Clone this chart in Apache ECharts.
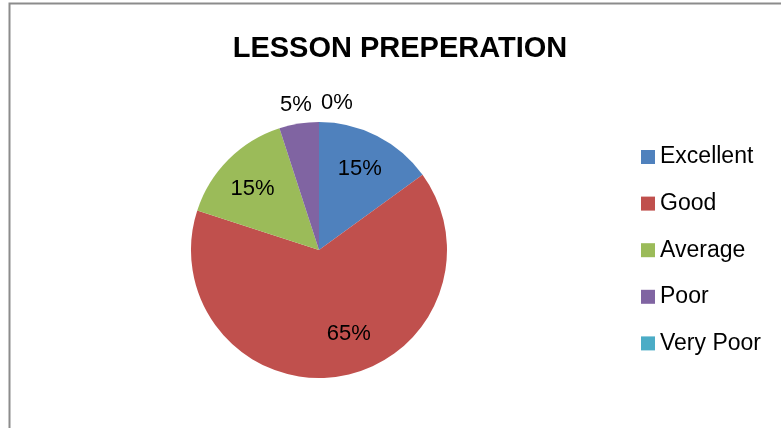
<!DOCTYPE html>
<html>
<head>
<meta charset="utf-8">
<script src="https://cdn.jsdelivr.net/npm/echarts@6/dist/echarts.min.js"></script>
<style>
html,body{margin:0;padding:0;background:#fff;}
#chart{width:781px;height:428px;}
</style>
</head>
<body>
<div id="chart"></div>
<script>
const titleText = 'LESSON PREPERATION';
const categories = ['Excellent', 'Good', 'Average', 'Poor', 'Very Poor'];
const values = [15, 65, 15, 5, 0];
const colors = ['#4F81BD', '#C0504D', '#9BBB59', '#8064A2', '#4BACC6'];
const insideLabelCats = ['Excellent', 'Good', 'Average'];

const FONT = '"Liberation Sans", Arial, sans-serif';
const chart = echarts.init(document.getElementById('chart'), null, {renderer: 'canvas'});

const center = [319, 250];
const R = 128;

const mainData = categories.map((c, i) => ({name: c, value: values[i], itemStyle: {color: colors[i]}}));
const innerLabelData = categories.map((c, i) => ({
  name: c, value: values[i],
  label: {show: insideLabelCats.includes(c), offset: c === 'Good' ? [15, -9] : (c === 'Average' ? [0, 5] : [-2, 3])}
}));
const outerLabelData = categories.map((c, i) => ({
  name: c, value: values[i],
  label: {show: !insideLabelCats.includes(c), offset: c === 'Very Poor' ? [18, 0] : [0, 0]}
}));

const labelFmt = p => Math.round(p.percent) + '%';
const labelStyle = {position: 'inside', formatter: labelFmt, color: '#000', fontFamily: FONT, fontSize: 22};

chart.setOption({
  animation: false,
  backgroundColor: '#fff',
  title: {
    text: titleText, left: 400, top: 49, textAlign: 'center', textVerticalAlign: 'middle', padding: 0,
    textStyle: {fontFamily: FONT, fontWeight: 'bold', fontSize: 29, color: '#000'}
  },
  legend: {
    orient: 'vertical', left: 641, top: 145, padding: 0,
    data: categories,
    icon: 'rect', itemWidth: 14, itemHeight: 14, itemGap: 22.6,
    textStyle: {fontFamily: FONT, fontSize: 23, color: '#000', lineHeight: 24, padding: [0, 0, 0, 0]},
    selectedMode: false
  },
  graphic: [{
    type: 'polyline', silent: true,
    shape: {points: [[9.5, 430], [9.5, 3.5], [790, 3.5]]},
    style: {stroke: '#8c8c8c', lineWidth: 2, fill: 'none'}
  }],
  series: [
    {
      type: 'pie', center: center, radius: [0, R], startAngle: 90, clockwise: true,
      data: mainData, label: {show: false}, labelLine: {show: false},
      itemStyle: {borderWidth: 0}, emphasis: {disabled: true}, silent: true
    },
    {
      type: 'pie', center: center, radius: [54, R], startAngle: 90, clockwise: true,
      data: innerLabelData, label: labelStyle, labelLine: {show: false},
      itemStyle: {color: 'rgba(0,0,0,0)', borderWidth: 0}, emphasis: {disabled: true}, silent: true
    },
    {
      type: 'pie', center: center, radius: [R, 160], startAngle: 90, clockwise: true,
      data: outerLabelData, label: labelStyle, labelLine: {show: false},
      itemStyle: {color: 'rgba(0,0,0,0)', borderWidth: 0}, emphasis: {disabled: true}, silent: true
    }
  ]
});
</script>
</body>
</html>
